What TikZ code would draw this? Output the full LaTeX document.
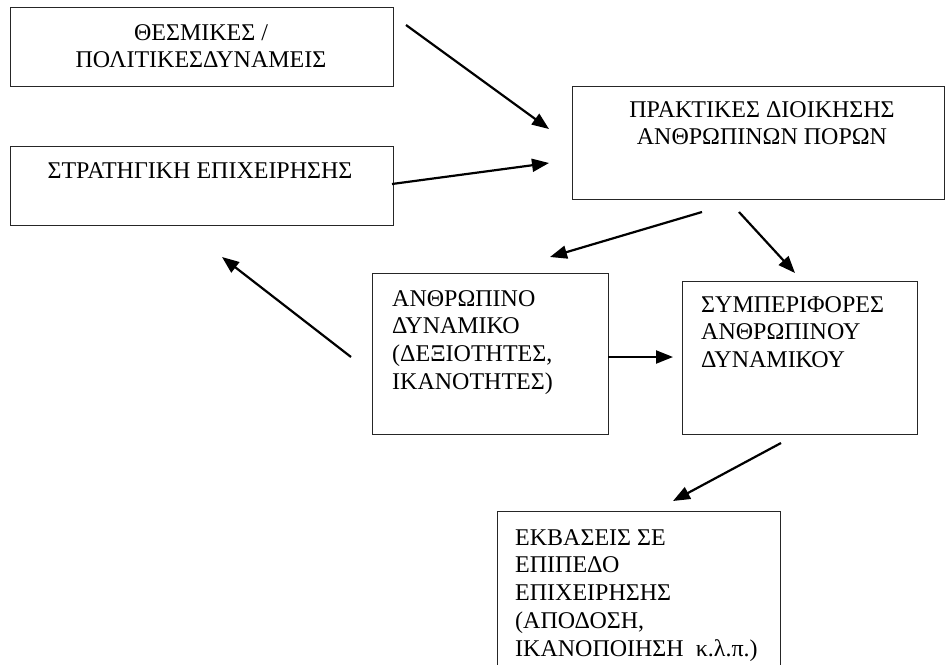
\documentclass[tikz,border=0pt]{standalone}
\usepackage{fontspec}
\setmainfont{Liberation Serif}
\usetikzlibrary{arrows.meta}
\begin{document}
\begin{tikzpicture}[x=1pt,y=-1pt,
  boxst/.style={draw=black!85,line width=1pt,rectangle,inner sep=0pt,anchor=north west},
  txt/.style={inner sep=0pt,font=\fontsize{24}{27.8}\selectfont},
  arr/.style={line width=2.2pt,-{Triangle[length=17pt,width=13pt]}}
]
\clip (0,0) rectangle (945,664);
\fill[white] (0,0) rectangle (945,664);
% boxes
\node[boxst,minimum width=383pt,minimum height=79pt] (b1) at (10,7) {};
\node[boxst,minimum width=383pt,minimum height=79pt] (b2) at (10,146) {};
\node[boxst,minimum width=372pt,minimum height=113pt] (b3) at (572,86) {};
\node[boxst,minimum width=236pt,minimum height=161pt] (b4) at (372,273) {};
\node[boxst,minimum width=235pt,minimum height=153pt] (b5) at (682,281) {};
\node[boxst,minimum width=283pt,minimum height=200pt] (b6) at (497,511) {};
% texts
\node[txt,anchor=base] (t1) at (201,40) {\begin{tabular}[t]{@{}c@{}}ΘΕΣΜΙΚΕΣ /\\ΠΟΛΙΤΙΚΕΣΔΥΝΑΜΕΙΣ\end{tabular}};
\node[txt,anchor=base] (t2) at (200,178) {ΣΤΡΑΤΗΓΙΚΗ ΕΠΙΧΕΙΡΗΣΗΣ};
\node[txt,anchor=base] (t3) at (762,117) {\begin{tabular}[t]{@{}c@{}}ΠΡΑΚΤΙΚΕΣ ΔΙΟΙΚΗΣΗΣ\\ΑΝΘΡΩΠΙΝΩΝ ΠΟΡΩΝ\end{tabular}};
\node[txt,anchor=base west] (t4) at (392,306) {\begin{tabular}[t]{@{}l@{}}ΑΝΘΡΩΠΙΝΟ\\ΔΥΝΑΜΙΚΟ\\(ΔΕΞΙΟΤΗΤΕΣ,\\ΙΚΑΝΟΤΗΤΕΣ)\end{tabular}};
\node[txt,anchor=base west] (t5) at (701,312) {\begin{tabular}[t]{@{}l@{}}ΣΥΜΠΕΡΙΦΟΡΕΣ\\ΑΝΘΡΩΠΙΝΟΥ\\ΔΥΝΑΜΙΚΟΥ\end{tabular}};
\node[txt,anchor=base west] (t6) at (515,545) {\begin{tabular}[t]{@{}l@{}}ΕΚΒΑΣΕΙΣ ΣΕ\\ΕΠΙΠΕΔΟ\\ΕΠΙΧΕΙΡΗΣΗΣ\\(ΑΠΟΔΟΣΗ,\\ΙΚΑΝΟΠΟΙΗΣΗ\ \ κ.λ.π.)\end{tabular}};
% arrow end points
\coordinate (a1s) at (406,25);  \coordinate (a1e) at (549,129);
\coordinate (a2s) at (392,184); \coordinate (a2e) at (549,163);
\coordinate (a3s) at (702,212); \coordinate (a3e) at (550,257);
\coordinate (a4s) at (739,212); \coordinate (a4e) at (795,273);
\coordinate (a5s) at (608,357); \coordinate (a5e) at (673,357);
\coordinate (a6s) at (351,357); \coordinate (a6e) at (222,257);
\coordinate (a7s) at (781,443); \coordinate (a7e) at (673,501);
\draw[arr] (a1s) -- (a1e);
\draw[arr] (a2s) -- (a2e);
\draw[arr] (a3s) -- (a3e);
\draw[arr] (a4s) -- (a4e);
\draw[arr] (a5s) -- (a5e);
\draw[arr] (a6s) -- (a6e);
\draw[arr] (a7s) -- (a7e);
\end{tikzpicture}
\end{document}
